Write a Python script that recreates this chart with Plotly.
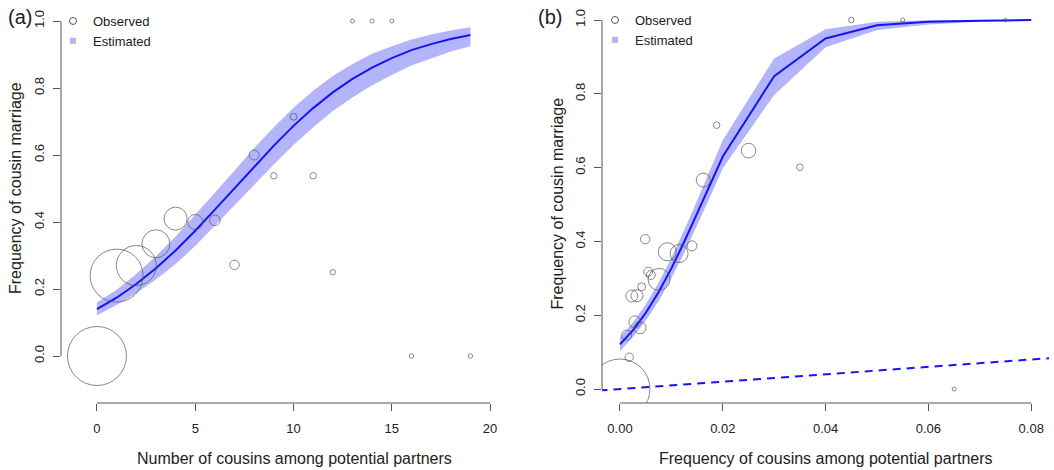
import plotly.graph_objects as go

# ---------------- data: panel (a) ----------------
a_obs_x = [0, 1, 2, 3, 4, 5, 6, 7, 8, 9, 10, 11, 12, 13, 14, 15, 16, 19]
a_obs_y = [0.0, 0.24, 0.27, 0.335, 0.41, 0.40, 0.405, 0.272, 0.60, 0.538, 0.714, 0.538, 0.25,
           1.0, 1.0, 1.0, 0.0, 0.0]
a_obs_w = [29.5, 26.5, 20, 14, 11.5, 7.5, 5.3, 4.7, 5, 3.2, 3.4, 3.2, 2.7, 2, 2, 2, 2.2, 2.2]

a_est_x = list(range(0, 20))
a_est_y = [0.140, 0.174, 0.215, 0.262, 0.315, 0.374, 0.437, 0.501, 0.566, 0.628,
           0.687, 0.740, 0.787, 0.827, 0.861, 0.889, 0.913, 0.931, 0.946, 0.958]
a_est_hi = [0.160, 0.198, 0.245, 0.298, 0.357, 0.421, 0.487, 0.554, 0.621, 0.683,
            0.741, 0.792, 0.836, 0.872, 0.902, 0.925, 0.945, 0.960, 0.972, 0.981]
a_est_lo = [0.122, 0.152, 0.187, 0.228, 0.275, 0.328, 0.387, 0.448, 0.511, 0.572,
            0.630, 0.683, 0.731, 0.772, 0.808, 0.839, 0.867, 0.889, 0.909, 0.925]

# ---------------- data: panel (b) ----------------
b_obs_x = [0.0, 0.0018, 0.0013, 0.0029, 0.0039, 0.0023, 0.0033, 0.0042, 0.0076, 0.0055,
           0.0060, 0.0049, 0.0092, 0.0115, 0.0140, 0.0162, 0.0188, 0.025, 0.035, 0.045,
           0.055, 0.075, 0.065]
b_obs_y = [0.0, 0.086, 0.146, 0.182, 0.166, 0.252, 0.253, 0.277, 0.297, 0.318,
           0.309, 0.406, 0.372, 0.367, 0.388, 0.566, 0.715, 0.646, 0.601, 1.0,
           1.0, 1.0, 0.0]
b_obs_w = [30, 4.2, 5, 6, 6, 6, 6, 4, 11, 4.5,
           4.5, 4.7, 9, 9, 5, 7, 3.3, 7.3, 3.3, 2.7,
           2, 1.7, 2]

b_est_x = [0, 0.0025, 0.005, 0.0075, 0.01, 0.0125, 0.015, 0.0175, 0.02, 0.03,
           0.04, 0.05, 0.06, 0.07, 0.08]
b_est_y = [0.121, 0.159, 0.206, 0.262, 0.327, 0.399, 0.476, 0.554, 0.630, 0.848,
           0.950, 0.986, 0.995, 0.998, 1.0]
b_est_hi = [0.140, 0.180, 0.229, 0.288, 0.356, 0.431, 0.511, 0.594, 0.675, 0.896,
            0.975, 0.995, 0.999, 1.0, 1.0]
b_est_lo = [0.103, 0.140, 0.185, 0.238, 0.300, 0.368, 0.442, 0.520, 0.598, 0.797,
            0.926, 0.973, 0.988, 0.995, 0.998]

b_ref_x = [-0.004, 0.084]   # identity reference line y = x
b_ref_y = [-0.004, 0.084]

a_xticks = [0, 5, 10, 15, 20]
b_xticks = [0.0, 0.02, 0.04, 0.06, 0.08]
b_xticklabels = ["0.00", "0.02", "0.04", "0.06", "0.08"]
y_ticks = [0.0, 0.2, 0.4, 0.6, 0.8, 1.0]
y_ticklabels = ["0.0", "0.2", "0.4", "0.6", "0.8", "1.0"]

x_title_a = "Number of cousins among potential partners"
x_title_b = "Frequency of cousins among potential partners"
y_title = "Frequency of cousin marriage"

# ---------------- styling ----------------
W, H = 1054, 470
FONT = "Liberation Sans, Arial, Helvetica, sans-serif"
BAND = "rgb(180,180,250)"
LINE = "rgb(20,20,245)"
CIRC = "#555555"
AX = "#555555"
TXT = "#222222"


def fx(p):
    return p / W


def fy(p):
    return 1 - p / H


fig = go.Figure()


def add_panel(xs, ys, ws, ex, ey, hi, lo, xa, ya, legend):
    fig.add_trace(go.Scatter(x=ex + ex[::-1], y=hi + lo[::-1], fill="toself",
                             fillcolor=BAND, line=dict(width=0), mode="lines",
                             hoverinfo="skip", showlegend=False, xaxis=xa, yaxis=ya))
    fig.add_trace(go.Scatter(x=ex, y=ey, mode="lines", line=dict(color=LINE, width=2),
                             showlegend=False, xaxis=xa, yaxis=ya))
    fig.add_trace(go.Scatter(x=xs, y=ys, mode="markers",
                             marker=dict(size=[2 * w for w in ws], color="rgba(0,0,0,0)",
                                         line=dict(color=CIRC, width=1)),
                             cliponaxis=True, showlegend=False, xaxis=xa, yaxis=ya))
    # legend entries
    fig.add_trace(go.Scatter(x=[None], y=[None], mode="markers", name="Observed",
                             marker=dict(size=7, color="rgba(0,0,0,0)", symbol="circle",
                                         line=dict(color=CIRC, width=1)),
                             legend=legend, xaxis=xa, yaxis=ya))
    fig.add_trace(go.Scatter(x=[None], y=[None], mode="markers", name="Estimated",
                             marker=dict(size=6, color=BAND, symbol="square",
                                         line=dict(width=0)),
                             legend=legend, xaxis=xa, yaxis=ya))


add_panel(a_obs_x, a_obs_y, a_obs_w, a_est_x, a_est_y, a_est_hi, a_est_lo, "x", "y", "legend")
add_panel(b_obs_x, b_obs_y, b_obs_w, b_est_x, b_est_y, b_est_hi, b_est_lo, "x2", "y2", "legend2")
fig.add_trace(go.Scatter(x=b_ref_x, y=b_ref_y, mode="lines",
                         line=dict(color=LINE, width=2, dash="8px,6px"),
                         showlegend=False, xaxis="x2", yaxis="y2"))

axis_common = dict(showgrid=False, zeroline=False, showline=False, ticks="outside",
                   ticklen=7, tickwidth=1, tickcolor=AX,
                   tickfont=dict(family=FONT, size=13, color=TXT))

fig.update_layout(
    width=W, height=H, margin=dict(l=0, r=0, t=0, b=0),
    paper_bgcolor="white", plot_bgcolor="white",
    xaxis=dict(domain=[fx(61), fx(527)], range=[-1.83, 21.88], anchor="y",
               tickvals=a_xticks, ticklabelstandoff=6, **axis_common),
    yaxis=dict(domain=[fy(403), 1.0], range=[-0.1403, 1.0627], anchor="x",
               tickvals=y_ticks, ticktext=y_ticklabels, tickangle=-90,
               ticklabelstandoff=4, **axis_common),
    xaxis2=dict(domain=[fx(602), fx(1049)], range=[-0.0035, 0.08346], anchor="y2",
                tickvals=b_xticks, ticktext=b_xticklabels, ticklabelstandoff=6, **axis_common),
    yaxis2=dict(domain=[fy(403), 1.0], range=[-0.0379, 1.0542], anchor="x2",
                tickvals=y_ticks, ticktext=y_ticklabels, tickangle=-90,
                ticklabelstandoff=4, **axis_common),
    legend=dict(x=fx(53), y=fy(6), xanchor="left", yanchor="top",
                font=dict(family=FONT, size=13, color=TXT), bgcolor="rgba(0,0,0,0)",
                itemwidth=30, tracegroupgap=0),
    legend2=dict(x=fx(595), y=fy(5), xanchor="left", yanchor="top",
                 font=dict(family=FONT, size=13, color=TXT), bgcolor="rgba(0,0,0,0)",
                 itemwidth=30, tracegroupgap=0),
    showlegend=True,
)

# R-style axis lines spanning first to last tick
for xa, ya, xt in (("x", "y", a_xticks), ("x2", "y2", b_xticks)):
    fig.add_shape(type="line", xref=xa, yref=f"{ya} domain", x0=xt[0], x1=xt[-1], y0=0, y1=0,
                  line=dict(color=AX, width=1))
    fig.add_shape(type="line", xref=f"{xa} domain", yref=ya, x0=0, x1=0,
                  y0=y_ticks[0], y1=y_ticks[-1], line=dict(color=AX, width=1))

# titles and panel labels
ann = [
    dict(text=x_title_a, x=fx(294), y=fy(458)),
    dict(text=x_title_b, x=fx(825.5), y=fy(458)),
    dict(text=y_title, x=fx(15), y=fy(188), textangle=-90),
    dict(text=y_title, x=fx(557), y=fy(203.5), textangle=-90),
]
for a in ann:
    fig.add_annotation(xref="paper", yref="paper", showarrow=False, xanchor="center",
                       yanchor="middle", font=dict(family=FONT, size=16, color=TXT), **a)
for t, xp in (("(a)", 19.5), ("(b)", 550)):
    fig.add_annotation(text=t, xref="paper", yref="paper", x=fx(xp), y=fy(17), showarrow=False,
                       xanchor="center", yanchor="middle",
                       font=dict(family=FONT, size=20, color=TXT))

fig.write_html(
    "out.html",
    config={"displayModeBar": False},
    post_script="document.body.style.margin='0';document.body.style.overflow='hidden';",
)
